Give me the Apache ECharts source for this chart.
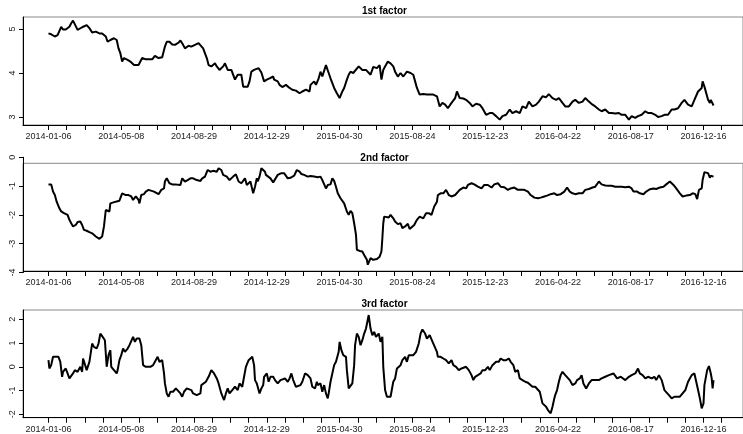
<!DOCTYPE html>
<html>
<head>
<meta charset="utf-8">
<script src="https://cdn.jsdelivr.net/npm/echarts@6/dist/echarts.min.js"></script>
<style>
html, body { margin: 0; padding: 0; background: #fff; }
#main { width: 743px; height: 434px; }
</style>
</head>
<body>
<div id="main"></div>
<script>
// trading-day index -> label, one label every 80 trading days
var dateLabels = ['2014-01-06', '2014-05-08', '2014-08-29', '2014-12-29', '2015-04-30',
  '2015-08-24', '2015-12-23', '2016-04-22', '2016-08-17', '2016-12-16'];
var titles = ['1st factor', '2nd factor', '3rd factor'];
var yTickRanges = [[3, 5], [-4, 0], [-2, 2]];

// [trading day index, value]
var factor1 = [[0,4.90],[1,4.92],[3,4.88],[7,4.83],[10,4.86],[12,4.90],[14,5.05],[16,4.99],[17,5.02],[19,4.99],[23,5.05],[25,5.13],[27,5.19],[28,5.17],[32,4.98],[34,4.96],[37,5.04],[39,5.01],[42,5.09],[45,5.02],[48,4.92],[52,4.94],[56,4.90],[59,4.90],[63,4.83],[65,4.71],[67,4.68],[68,4.75],[72,4.79],[75,4.75],[77,4.56],[79,4.45],[81,4.26],[83,4.34],[87,4.30],[90,4.26],[94,4.18],[96,4.15],[99,4.18],[103,4.34],[107,4.31],[110,4.31],[114,4.31],[117,4.39],[121,4.34],[125,4.36],[128,4.60],[130,4.71],[133,4.71],[136,4.65],[139,4.64],[143,4.69],[145,4.74],[148,4.64],[150,4.56],[154,4.62],[157,4.60],[161,4.64],[165,4.68],[167,4.65],[170,4.56],[174,4.34],[176,4.18],[179,4.15],[183,4.22],[185,4.15],[188,4.07],[192,4.15],[194,4.22],[197,4.07],[201,4.07],[205,3.85],[207,3.81],[208,3.96],[210,3.92],[212,3.96],[214,3.69],[216,3.66],[219,3.69],[221,3.81],[223,4.03],[226,4.07],[228,4.07],[231,4.11],[234,4.01],[237,3.81],[240,3.85],[243,3.88],[247,3.92],[248,3.85],[252,3.81],[254,3.73],[257,3.68],[261,3.73],[265,3.66],[268,3.62],[272,3.60],[276,3.54],[279,3.58],[283,3.62],[287,3.58],[288,3.73],[292,3.81],[294,3.73],[297,3.88],[299,4.03],[301,3.92],[305,4.18],[307,4.15],[308,4.00],[310,3.88],[314,3.66],[317,3.54],[320,3.43],[323,3.58],[325,3.66],[327,3.62],[328,3.85],[330,3.96],[332,4.03],[335,4.00],[337,3.96],[341,4.15],[345,4.07],[347,4.03],[349,4.07],[354,3.96],[357,4.14],[361,4.11],[364,4.18],[366,3.85],[368,4.07],[370,4.15],[373,4.26],[376,4.22],[379,4.15],[381,4.03],[384,3.92],[387,4.00],[390,3.92],[394,4.03],[398,4.00],[401,3.96],[403,3.81],[405,3.66],[408,3.51],[412,3.52],[416,3.51],[419,3.51],[423,3.51],[427,3.47],[430,3.24],[433,3.32],[436,3.28],[439,3.20],[443,3.32],[447,3.43],[449,3.58],[452,3.43],[456,3.42],[459,3.39],[463,3.32],[466,3.24],[470,3.30],[474,3.28],[477,3.20],[481,3.05],[485,3.09],[488,3.09],[492,3.02],[496,2.94],[499,3.02],[503,3.05],[507,3.17],[510,3.09],[514,3.13],[518,3.09],[521,3.24],[525,3.20],[528,3.35],[532,3.24],[536,3.28],[539,3.35],[543,3.47],[547,3.45],[550,3.52],[554,3.43],[558,3.39],[561,3.43],[565,3.32],[568,3.24],[572,3.24],[576,3.35],[579,3.39],[583,3.32],[587,3.35],[590,3.43],[594,3.35],[598,3.28],[601,3.24],[605,3.17],[608,3.13],[612,3.17],[616,3.09],[619,3.09],[623,3.08],[627,3.09],[630,3.05],[634,3.05],[638,2.94],[641,3.02],[645,2.98],[648,3.02],[652,3.05],[656,3.13],[659,3.09],[663,3.09],[667,3.05],[670,3.00],[674,3.02],[677,3.05],[681,3.05],[685,3.17],[688,3.17],[692,3.20],[696,3.32],[699,3.39],[703,3.28],[707,3.24],[710,3.39],[714,3.58],[718,3.66],[719,3.81],[721,3.69],[725,3.39],[727,3.32],[728,3.39],[731,3.26]];

var factor2 = [[0,-0.94],[1,-0.90],[3,-0.94],[5,-1.19],[7,-1.31],[9,-1.54],[12,-1.77],[14,-1.88],[16,-1.88],[17,-1.94],[19,-2.00],[21,-2.00],[23,-2.17],[25,-2.29],[27,-2.40],[30,-2.35],[32,-2.25],[35,-2.23],[37,-2.35],[39,-2.52],[42,-2.55],[45,-2.60],[47,-2.60],[48,-2.64],[50,-2.69],[52,-2.75],[54,-2.79],[56,-2.83],[58,-2.87],[59,-2.75],[61,-2.40],[63,-1.83],[65,-1.88],[67,-1.88],[68,-1.60],[70,-1.56],[74,-1.54],[78,-1.51],[79,-1.42],[81,-1.25],[85,-1.31],[88,-1.31],[91,-1.36],[93,-1.48],[96,-1.36],[99,-1.48],[100,-1.60],[102,-1.31],[105,-1.28],[107,-1.19],[110,-1.13],[112,-1.19],[116,-1.19],[118,-1.21],[121,-1.28],[124,-1.13],[127,-1.08],[128,-0.84],[130,-0.73],[133,-0.90],[136,-0.94],[139,-0.94],[145,-0.96],[147,-0.73],[150,-0.84],[153,-0.79],[156,-0.73],[159,-0.73],[163,-0.79],[167,-0.82],[169,-0.73],[172,-0.67],[175,-0.44],[178,-0.50],[181,-0.47],[185,-0.50],[187,-0.38],[190,-0.44],[192,-0.61],[196,-0.67],[199,-0.79],[203,-0.67],[206,-0.59],[209,-0.84],[212,-0.90],[216,-0.73],[218,-0.96],[219,-1.02],[222,-0.84],[225,-1.25],[227,-1.02],[229,-0.73],[230,-0.84],[232,-0.67],[234,-0.38],[236,-0.36],[238,-0.50],[239,-0.61],[241,-0.55],[244,-0.73],[247,-0.87],[249,-0.84],[252,-0.61],[256,-0.55],[259,-0.55],[263,-0.73],[266,-0.71],[270,-0.64],[273,-0.44],[276,-0.50],[278,-0.58],[281,-0.61],[285,-0.67],[288,-0.65],[292,-0.67],[296,-0.69],[299,-0.67],[301,-0.79],[305,-1.08],[307,-0.96],[310,-0.94],[312,-0.73],[314,-0.82],[316,-1.02],[318,-1.25],[321,-1.42],[325,-1.60],[328,-1.88],[330,-2.00],[332,-1.86],[334,-1.94],[336,-2.29],[338,-2.69],[339,-3.21],[342,-3.25],[345,-3.27],[347,-3.39],[350,-3.56],[351,-3.73],[353,-3.79],[354,-3.50],[357,-3.56],[361,-3.53],[364,-3.45],[366,-3.27],[367,-2.81],[368,-2.29],[369,-2.06],[371,-2.02],[374,-2.09],[376,-2.00],[379,-2.12],[381,-2.23],[384,-2.32],[387,-2.29],[389,-2.46],[392,-2.40],[395,-2.31],[397,-2.49],[399,-2.46],[402,-2.35],[405,-2.17],[408,-2.06],[409,-2.12],[412,-2.12],[415,-1.94],[418,-1.94],[421,-2.00],[424,-1.71],[427,-1.54],[428,-1.31],[431,-1.25],[434,-1.25],[437,-1.13],[440,-1.31],[443,-1.36],[447,-1.31],[449,-1.36],[452,-1.13],[456,-1.05],[459,-1.08],[461,-0.96],[465,-0.90],[468,-0.94],[472,-1.02],[476,-1.08],[479,-0.96],[483,-0.96],[487,-1.05],[490,-0.94],[494,-0.90],[497,-1.02],[501,-1.04],[505,-1.13],[508,-1.08],[512,-1.05],[516,-1.13],[519,-1.13],[523,-1.13],[527,-1.19],[530,-1.31],[534,-1.40],[538,-1.42],[541,-1.40],[545,-1.36],[548,-1.33],[552,-1.28],[556,-1.25],[559,-1.31],[563,-1.28],[567,-1.19],[570,-1.05],[573,-1.19],[576,-1.25],[579,-1.28],[583,-1.25],[587,-1.25],[590,-1.13],[594,-1.10],[598,-1.05],[601,-1.02],[605,-0.84],[608,-0.94],[612,-0.98],[616,-0.99],[619,-0.99],[623,-1.02],[627,-1.02],[630,-1.02],[634,-1.04],[638,-1.02],[641,-1.08],[643,-1.19],[647,-1.19],[650,-1.25],[654,-1.28],[657,-1.19],[661,-1.11],[665,-1.08],[668,-1.10],[672,-1.05],[676,-1.02],[679,-0.94],[683,-0.84],[687,-0.96],[690,-1.08],[694,-1.25],[697,-1.36],[701,-1.33],[705,-1.31],[708,-1.25],[711,-1.28],[713,-1.45],[715,-1.13],[718,-1.08],[719,-0.79],[721,-0.52],[723,-0.50],[725,-0.55],[727,-0.71],[728,-0.64],[730,-0.61],[731,-0.67]];

var factor3 = [[0,0.28],[1,-0.07],[3,0.07],[5,0.42],[6,0.49],[8,0.42],[11,0.42],[13,0.21],[15,-0.42],[16,-0.21],[19,-0.07],[21,-0.14],[23,-0.49],[25,-0.42],[27,-0.28],[29,-0.14],[32,-0.21],[35,0.00],[37,-0.21],[38,0.35],[40,0.28],[42,-0.14],[44,-0.07],[45,0.21],[48,0.98],[50,0.84],[53,0.77],[55,0.98],[57,1.40],[59,1.29],[62,1.12],[64,0.00],[66,0.49],[68,0.70],[69,0.00],[72,-0.14],[75,-0.28],[76,-0.14],[78,0.28],[80,0.49],[82,0.77],[84,0.63],[87,0.77],[89,0.91],[91,0.98],[93,1.26],[95,1.05],[97,1.19],[99,1.12],[100,1.19],[102,0.91],[104,0.07],[107,0.00],[109,-0.07],[112,0.00],[115,0.07],[117,0.21],[120,0.42],[122,0.21],[125,0.28],[127,-0.28],[128,-0.70],[130,-1.12],[132,-1.26],[134,-1.05],[136,-0.98],[137,-1.05],[140,-0.91],[142,-0.98],[145,-1.12],[147,-1.26],[149,-1.05],[152,-0.91],[154,-0.98],[157,-0.98],[159,-1.12],[163,-1.19],[167,-1.12],[168,-0.77],[170,-0.84],[173,-0.63],[176,-0.42],[179,-0.14],[182,-0.28],[185,-0.49],[187,-0.70],[190,-1.12],[193,-1.40],[195,-1.12],[197,-0.91],[199,-1.12],[202,-0.98],[205,-0.84],[208,-0.98],[210,-0.70],[213,-0.84],[215,-0.42],[217,0.00],[220,0.28],[222,0.21],[224,0.42],[226,0.07],[227,-0.56],[229,-0.70],[232,-1.12],[234,-0.91],[236,-0.77],[237,-0.42],[240,-0.28],[242,-0.63],[244,-0.42],[247,-0.42],[249,-0.56],[252,-0.70],[255,-0.56],[257,-0.56],[260,-0.49],[263,-0.63],[265,-0.49],[267,-0.28],[269,-0.56],[272,-0.84],[274,-0.91],[277,-0.77],[279,-0.63],[282,-0.28],[285,-0.35],[288,-0.49],[290,-0.84],[293,-0.91],[295,-0.63],[296,-0.77],[299,-0.70],[301,-1.05],[303,-0.77],[305,-1.12],[307,-1.33],[308,-1.12],[310,-0.63],[312,-0.28],[314,0.07],[316,0.21],[317,0.28],[319,0.63],[320,1.05],[322,0.70],[324,0.49],[327,0.42],[328,-0.14],[330,-0.91],[332,-0.84],[334,-0.70],[336,0.07],[337,0.91],[339,1.40],[341,1.26],[343,0.91],[345,1.12],[347,1.40],[349,1.61],[352,2.18],[354,1.61],[356,1.33],[358,1.47],[360,1.26],[363,1.40],[365,1.05],[367,1.26],[368,0.00],[370,-0.98],[372,-1.26],[374,-1.33],[376,-1.26],[379,-0.63],[381,-0.49],[383,-0.07],[385,-0.14],[387,0.07],[389,0.28],[392,0.42],[394,0.21],[396,0.49],[398,0.42],[401,0.49],[404,0.63],[407,0.98],[409,1.40],[411,1.57],[414,1.40],[416,1.19],[419,1.33],[421,1.40],[423,0.98],[427,0.63],[428,0.42],[431,0.42],[434,0.35],[437,0.28],[440,0.14],[443,0.28],[445,0.07],[448,0.00],[451,-0.14],[454,-0.07],[456,-0.14],[459,0.00],[462,-0.14],[465,-0.35],[467,-0.56],[469,-0.42],[472,-0.35],[475,-0.28],[477,-0.14],[480,-0.14],[483,0.00],[485,-0.14],[488,0.07],[492,0.21],[495,0.21],[497,0.35],[500,0.28],[503,0.28],[506,0.35],[508,0.21],[511,0.07],[513,-0.21],[516,-0.14],[518,-0.49],[521,-0.56],[524,-0.63],[527,-0.67],[529,-0.73],[532,-0.84],[535,-0.84],[537,-0.84],[540,-1.05],[543,-1.54],[547,-1.68],[549,-1.82],[552,-1.96],[554,-1.68],[556,-1.33],[557,-1.19],[559,-0.98],[561,-0.63],[563,-0.35],[565,-0.21],[568,-0.35],[570,-0.42],[573,-0.56],[576,-0.77],[579,-0.70],[581,-0.56],[584,-0.49],[586,-0.35],[588,-0.70],[591,-0.91],[594,-0.70],[597,-0.56],[599,-0.56],[602,-0.56],[605,-0.56],[608,-0.49],[612,-0.42],[616,-0.35],[621,-0.28],[625,-0.49],[629,-0.42],[631,-0.49],[634,-0.56],[638,-0.42],[641,-0.35],[645,-0.28],[648,-0.07],[650,-0.28],[653,-0.35],[656,-0.49],[659,-0.42],[663,-0.49],[666,-0.42],[668,-0.56],[671,-0.35],[674,-0.56],[677,-0.98],[679,-1.05],[682,-1.19],[685,-1.33],[688,-1.26],[690,-1.26],[694,-1.26],[697,-1.12],[700,-0.98],[703,-0.63],[707,-0.35],[710,-0.28],[712,-0.63],[714,-0.98],[716,-1.33],[718,-1.75],[720,-1.54],[721,-0.77],[724,-0.14],[726,0.03],[728,-0.28],[729,-0.49],[730,-0.91],[731,-0.56]];

var allSeries = [factor1, factor2, factor3];

// panel boxes in pixels and the value range each box covers
var panels = [
  { top: 17, height: 108, min: 2.818, max: 5.273 },
  { top: 163.3, height: 107.7, min: -3.948, max: -0.208 },
  { top: 310, height: 107.7, min: -2.143, max: 2.392 }
];
// box runs past the right edge of the picture, as in the original
var boxLeft = 23, boxWidth = 726, xMax = 763.4;
var font = 'Liberation Sans, Arial, sans-serif';

var tickVals = [];
for (var t = 0; t <= 740; t += 20) tickVals.push(t);
var labelVals = dateLabels.map(function (d, i) { return i * 80; });

function yPix(p, v) {
  return p.top + (p.max - v) / (p.max - p.min) * p.height;
}

var grids = [], xAxes = [], yAxes = [], series = [], texts = [];
panels.forEach(function (p, i) {
  var lo = yTickRanges[i][0], hi = yTickRanges[i][1];
  var aTop = yPix(p, hi), aBot = yPix(p, lo);

  // data box
  grids.push({ left: boxLeft, top: p.top, width: boxWidth, height: p.height,
    show: true, borderColor: '#8a8a8a', borderWidth: 1, backgroundColor: 'transparent' });
  // y axis from first to last tick, like R's axis()
  grids.push({ left: boxLeft, top: aTop, width: 1, height: aBot - aTop });

  xAxes.push({
    type: 'value', gridIndex: 2 * i, min: -28, max: xMax,
    axisLine: { show: true, onZero: false, lineStyle: { color: '#000', width: 1 } },
    axisTick: { show: true, length: 5, customValues: tickVals, lineStyle: { color: '#000' } },
    axisLabel: {
      show: true, customValues: labelVals, margin: 7, fontSize: 9, color: '#222', fontFamily: font,
      formatter: function (v) { return dateLabels[Math.round(v / 80)] || ''; }
    },
    splitLine: { show: false }
  });
  xAxes.push({ type: 'value', gridIndex: 2 * i + 1, show: false, min: 0, max: 1 });

  yAxes.push({
    type: 'value', gridIndex: 2 * i, min: p.min, max: p.max,
    axisLine: { show: true, onZero: false, lineStyle: { color: '#000', width: 1 } },
    axisTick: { show: false }, axisLabel: { show: false }, splitLine: { show: false }
  });
  yAxes.push({
    type: 'value', gridIndex: 2 * i + 1, min: lo, max: hi, interval: 1,
    axisLine: { show: true, onZero: false, lineStyle: { color: '#000', width: 1 } },
    axisTick: { show: true, length: 4, lineStyle: { color: '#000' } },
    axisLabel: { show: true, rotate: 90, margin: 6, fontSize: 9, color: '#222', fontFamily: font },
    splitLine: { show: false }
  });

  series.push({
    type: 'line', xAxisIndex: 2 * i, yAxisIndex: 2 * i, data: allSeries[i],
    showSymbol: false, symbol: 'none',
    lineStyle: { color: '#000', width: 2 }
  });

  texts.push({
    type: 'text', x: 384.5, y: p.top - 5.5,
    style: { text: titles[i], fill: '#000', font: 'bold 10px ' + font,
      textAlign: 'center', textVerticalAlign: 'middle' }
  });
});

var myChart = echarts.init(document.getElementById('main'));
myChart.setOption({
  animation: false,
  backgroundColor: '#fff',
  grid: grids,
  xAxis: xAxes,
  yAxis: yAxes,
  series: series,
  graphic: texts
});
</script>
</body>
</html>
